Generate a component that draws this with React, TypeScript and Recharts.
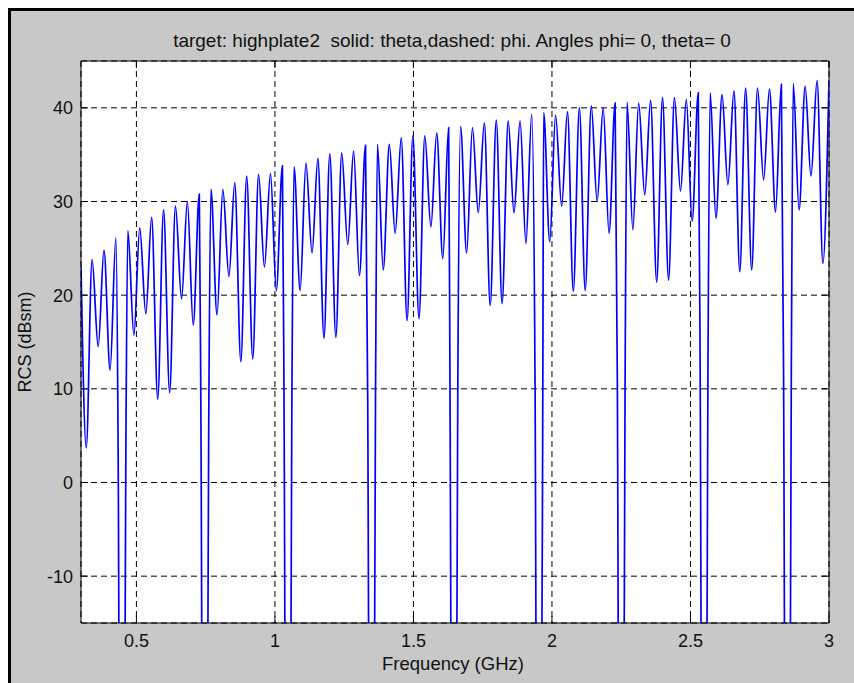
import { LineChart, Line, XAxis, YAxis, CartesianGrid, ReferenceLine } from "recharts";

// RCS sweep: peaks, ordinary troughs and the deep nulls
const peakFreq = [
  0.340, 0.383, 0.426, 0.469, 0.512, 0.555, 0.598, 0.641, 0.684, 0.727,
  0.769, 0.812, 0.855, 0.898, 0.941, 0.984, 1.027, 1.069, 1.112, 1.155,
  1.198, 1.241, 1.284, 1.327, 1.370, 1.413, 1.456, 1.498, 1.541, 1.584,
  1.627, 1.670, 1.713, 1.756, 1.799, 1.842, 1.885, 1.927, 1.970, 2.013,
  2.056, 2.099, 2.142, 2.185, 2.228, 2.271, 2.313, 2.356, 2.399, 2.442,
  2.485, 2.528, 2.571, 2.614, 2.657, 2.699, 2.742, 2.785, 2.828, 2.871,
  2.914, 2.957, 3.000,
];
const peakRcs = [
  23.8, 24.8, 26.1, 26.9, 27.2, 28.3, 29.1, 29.5, 30.0, 30.8,
  31.3, 31.3, 32.0, 32.7, 32.9, 33.0, 33.8, 33.7, 34.1, 34.6,
  35.1, 35.2, 35.4, 36.0, 36.1, 36.1, 36.8, 37.0, 37.0, 37.3,
  37.9, 38.0, 37.9, 38.4, 38.7, 38.6, 38.6, 39.3, 39.5, 39.2,
  39.6, 40.0, 40.2, 40.0, 40.5, 40.6, 40.5, 40.8, 41.1, 41.1,
  40.9, 41.6, 41.6, 41.4, 41.8, 42.1, 42.1, 42.0, 42.5, 42.6,
  42.3, 42.9, 43.0,
];

const troughFreq = [
  0.319, 0.362, 0.405, 0.491, 0.534, 0.577, 0.620, 0.663, 0.705, 0.791,
  0.834, 0.877, 0.920, 0.962, 1.005, 1.091, 1.134, 1.177, 1.220, 1.263,
  1.305, 1.391, 1.434, 1.477, 1.520, 1.563, 1.606, 1.692, 1.734, 1.777,
  1.820, 1.863, 1.906, 1.992, 2.035, 2.077, 2.120, 2.163, 2.206, 2.292,
  2.335, 2.378, 2.421, 2.464, 2.506, 2.592, 2.635, 2.678, 2.721, 2.764,
  2.807, 2.892, 2.935, 2.978,
];
const troughRcs = [
  3.7, 14.5, 12.0, 15.7, 18.0, 8.9, 9.6, 19.6, 16.8, 17.9,
  22.0, 12.9, 13.2, 23.0, 20.5, 20.5, 24.5, 15.4, 15.5, 25.4,
  22.1, 22.7, 26.6, 17.3, 17.5, 27.3, 23.9, 24.5, 28.8, 18.9,
  19.1, 28.8, 25.5, 25.7, 29.5, 20.4, 20.5, 30.0, 26.6, 27.0,
  30.7, 21.4, 21.6, 31.1, 27.9, 28.2, 31.8, 22.5, 22.7, 32.3,
  28.9, 29.1, 32.7, 23.4,
];

// deep nulls: centre, level of the shoulder on both walls, floor far below the axis
const nullFreq = [0.448, 0.747, 1.047, 1.349, 1.646, 1.953, 2.25, 2.549, 2.85];
const nullRim = [3.8, 6.0, 7.7, 8.7, 9.5, 10.4, 10.9, 11.6, 11.9];
const nullFloor = -40;
const nullRimHalf = 0.014;
const nullFloorHalf = 0.007;

const startFreq = 0.3;
const startRcs = 23.0;

const xTicks = [0.5, 1, 1.5, 2, 2.5, 3];
const yTicks = [-10, 0, 10, 20, 30, 40];

const title = "target: highplate2  solid: theta,dashed: phi. Angles phi= 0, theta= 0";

const points = [
  { f: startFreq, rcs: startRcs },
  ...peakFreq.map((f, i) => ({ f, rcs: peakRcs[i] })),
  ...troughFreq.map((f, i) => ({ f, rcs: troughRcs[i] })),
  ...nullFreq.flatMap((f, i) => [
    { f: f - nullRimHalf, rcs: nullRim[i] },
    { f: f - nullFloorHalf, rcs: nullFloor },
    { f: f + nullFloorHalf, rcs: nullFloor },
    { f: f + nullRimHalf, rcs: nullRim[i] },
  ]),
].sort((a, b) => a.f - b.f);

const FONT = '"Liberation Sans", Arial, Helvetica, sans-serif';
const PLOT = { left: 81, right: 829, top: 61, bottom: 623 };
const TICK = 7;

function XTick(props: any) {
  const { x, payload } = props;
  return (
    <g>
      <line x1={x} x2={x} y1={PLOT.bottom} y2={PLOT.bottom - TICK} stroke="#000" />
      <line x1={x} x2={x} y1={PLOT.top} y2={PLOT.top + TICK} stroke="#000" />
      <text x={x} y={647} textAnchor="middle" fontSize={18} fontFamily={FONT} fill="#111">
        {payload.value}
      </text>
    </g>
  );
}

function YTick(props: any) {
  const { y, payload } = props;
  return (
    <g>
      <line x1={PLOT.left} x2={PLOT.left + TICK} y1={y} y2={y} stroke="#000" />
      <line x1={PLOT.right} x2={PLOT.right - TICK} y1={y} y2={y} stroke="#000" />
      <text x={73} y={y + 6.5} textAnchor="end" fontSize={18} fontFamily={FONT} fill="#111">
        {payload.value}
      </text>
    </g>
  );
}

export default function App() {
  return (
    <div style={{ position: "relative", width: 854, height: 683, background: "#fff", overflow: "hidden" }}>
      <style>{"html,body{margin:0;padding:0;overflow:hidden}"}</style>
      <div
        style={{
          position: "absolute",
          left: 8,
          top: 8,
          right: 0,
          bottom: 0,
          background: "#c8c8c8",
          borderTop: "3px solid #000",
          borderLeft: "3px solid #000",
        }}
      />
      <div style={{ position: "absolute", left: 0, top: 0 }}>
        <LineChart
          width={854}
          height={683}
          data={points}
          margin={{ top: 61, right: 25, bottom: 30, left: 41 }}
        >
          <CartesianGrid stroke="#000" strokeDasharray="6 4" fill="#fff" fillOpacity={1} />
          <XAxis
            dataKey="f"
            type="number"
            domain={[0.3, 3]}
            ticks={xTicks}
            allowDataOverflow
            height={30}
            axisLine={{ stroke: "#000" }}
            tickLine={false}
            tick={<XTick />}
            interval={0}
          />
          <YAxis
            type="number"
            domain={[-15, 45]}
            ticks={yTicks}
            allowDataOverflow
            width={40}
            axisLine={{ stroke: "#000" }}
            tickLine={false}
            tick={<YTick />}
            interval={0}
          />
          <ReferenceLine y={45} stroke="#000" />
          <ReferenceLine x={3} stroke="#000" />
          <Line
            type="monotoneX"
            dataKey="rcs"
            stroke="#0000ff"
            strokeWidth={1.7}
            dot={false}
            isAnimationActive={false}
          />
        </LineChart>
      </div>
      <svg
        width={854}
        height={683}
        style={{ position: "absolute", left: 0, top: 0, pointerEvents: "none" }}
        fontFamily={FONT}
        fill="#111"
      >
        <text x={452} y={46.5} textAnchor="middle" fontSize={19} style={{ whiteSpace: "pre" }}>
          {title}
        </text>
        <text x={453} y={670} textAnchor="middle" fontSize={18.5}>
          Frequency (GHz)
        </text>
        <text x={31} y={342} textAnchor="middle" fontSize={18} transform="rotate(-90 31 342)">
          RCS (dBsm)
        </text>
      </svg>
    </div>
  );
}
